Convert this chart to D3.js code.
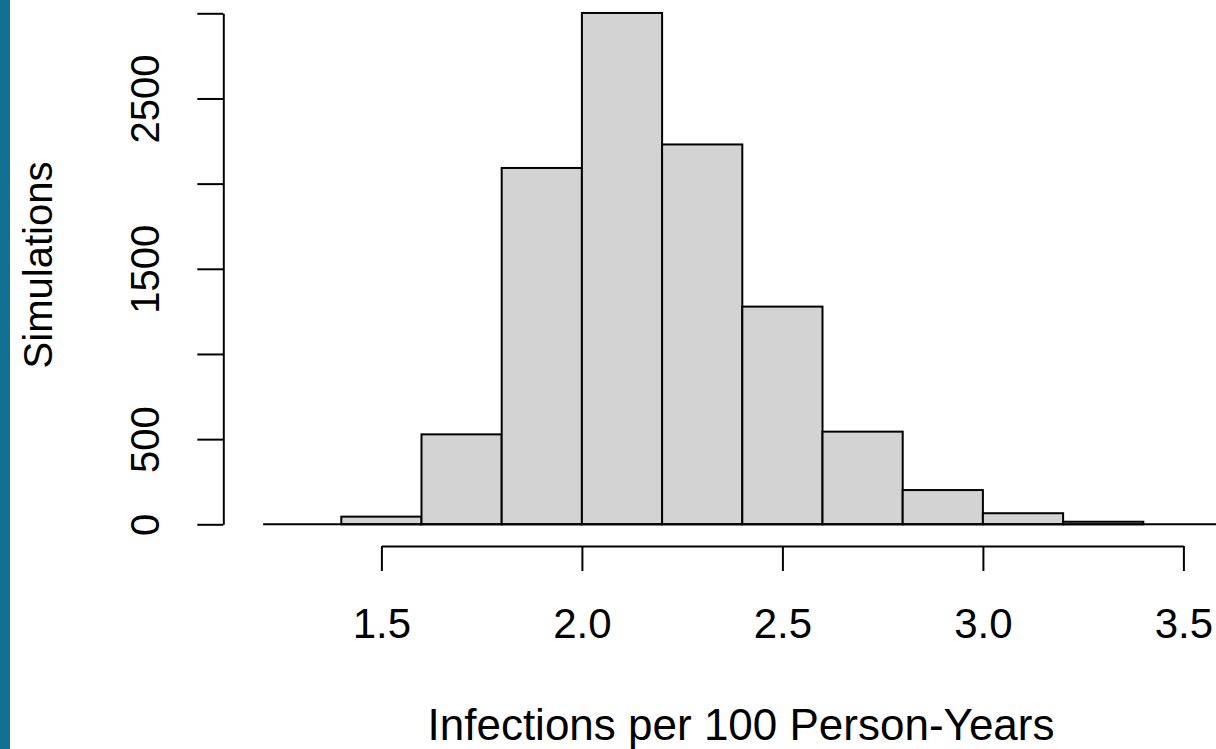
<!DOCTYPE html>
<html>
<head>
<meta charset="utf-8">
<script src="https://cdn.jsdelivr.net/npm/d3@7"></script>
<style>
  html, body { margin: 0; padding: 0; background: #ffffff; }
  svg { display: block; }
  text { font-family: "Liberation Sans", Arial, sans-serif; fill: #000; }
</style>
</head>
<body>
<svg id="chart" width="1216" height="749"></svg>
<script>
// ---- data ----
const binEdges = [1.4, 1.6, 1.8, 2.0, 2.2, 2.4, 2.6, 2.8, 3.0, 3.2, 3.4];
const binCounts = [45, 528, 2092, 3002, 2230, 1278, 544, 201, 65, 15];
const xTickValues = [1.5, 2.0, 2.5, 3.0, 3.5];
const xTickLabels = ["1.5", "2.0", "2.5", "3.0", "3.5"];
const yTickValues = [0, 500, 1000, 1500, 2000, 2500, 3000];
const yTickLabels = ["0", "500", "", "1500", "", "2500", ""];
const xTitle = "Infections per 100 Person-Years";
const yTitle = "Simulations";

const bins = binCounts.map((c, i) => ({ x0: binEdges[i], x1: binEdges[i + 1], count: c }));

const svg = d3.select("#chart");
const W = 1216, H = 749;

// left blue strip
svg.append("rect").attr("x", 0).attr("y", 0).attr("width", 10).attr("height", H).attr("fill", "#117094");

const x = d3.scaleLinear().domain([1.4, 3.4]).range([341.3, 1143.3]);
const y = d3.scaleLinear().domain([0, 3000]).range([524.3, 13.3]);

// bars
svg.append("g").selectAll("rect").data(bins).join("rect")
  .attr("x", d => x(d.x0))
  .attr("y", d => y(d.count))
  .attr("width", d => x(d.x1) - x(d.x0))
  .attr("height", d => y(0) - y(d.count))
  .attr("fill", "#d3d3d3")
  .attr("stroke", "#000")
  .attr("stroke-width", 2);

// baseline
svg.append("line")
  .attr("x1", x(1.205)).attr("x2", W)
  .attr("y1", y(0)).attr("y2", y(0))
  .attr("stroke", "#000").attr("stroke-width", 2);

// y axis
const yAxis = svg.append("g").attr("transform", "translate(223.3,0)")
  .call(d3.axisLeft(y).tickValues(yTickValues).tickSize(26).tickSizeOuter(0)
    .tickFormat((d, i) => yTickLabels[i]));
yAxis.selectAll("path, line").attr("stroke", "#000").attr("stroke-width", 2);
yAxis.selectAll("text")
  .attr("x", null).attr("dy", null)
  .attr("transform", "translate(-64,0) rotate(-90)")
  .attr("text-anchor", "middle")
  .style("font-size", "40px")
  .attr("fill", "#000");

// x axis
const xAxisScale = x.copy().domain([1.5, 3.5]).range([x(1.5), x(3.5)]);
const xAxis = svg.append("g").attr("transform", "translate(0,546)")
  .call(d3.axisBottom(xAxisScale).tickValues(xTickValues).tickSize(25).tickSizeOuter(0)
    .tickFormat((d, i) => xTickLabels[i]));
xAxis.selectAll("path, line").attr("stroke", "#000").attr("stroke-width", 2);
xAxis.selectAll("text")
  .attr("y", 92).attr("dy", null)
  .attr("text-anchor", "middle")
  .style("font-size", "42px")
  .attr("fill", "#000");

// titles
svg.append("text")
  .attr("x", 741).attr("y", 740)
  .attr("text-anchor", "middle")
  .style("font-size", "44px")
  .text(xTitle);

svg.append("text")
  .attr("transform", "translate(51.5,265) rotate(-90)")
  .attr("text-anchor", "middle")
  .style("font-size", "40px")
  .text(yTitle);
</script>
</body>
</html>
